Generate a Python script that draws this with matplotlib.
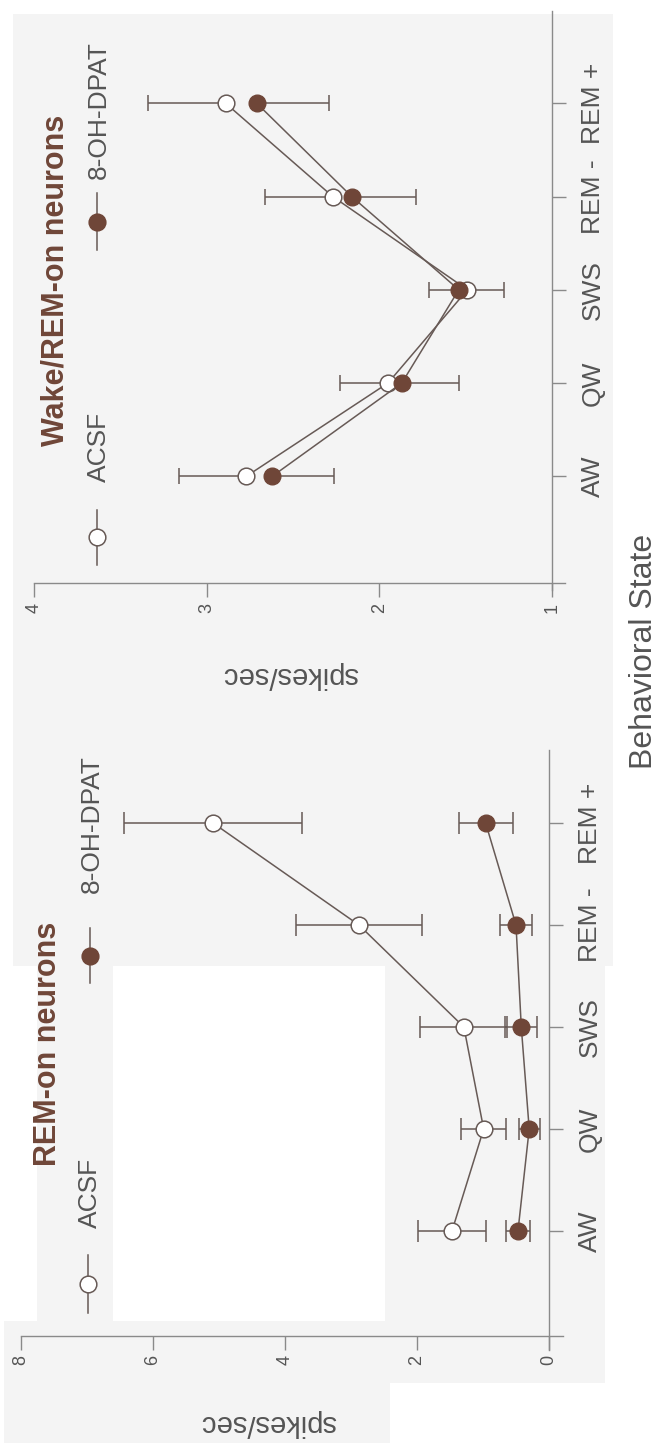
import numpy as np
import matplotlib.pyplot as plt
from matplotlib.patches import Rectangle

plt.rcParams['font.family'] = ['Liberation Sans', 'DejaVu Sans']

states = ['AW', 'QW', 'SWS', 'REM -', 'REM +']

# REM-on neurons (mean +/- sem)
rem_acsf = [1.47, 0.99, 1.29, 2.88, 5.09]
rem_acsf_err = [0.51, 0.34, 0.66, 0.95, 1.35]
rem_dpat = [0.47, 0.30, 0.42, 0.50, 0.96]
rem_dpat_err = [0.18, 0.16, 0.24, 0.24, 0.41]

# Wake/REM-on neurons (one sided bars)
wake_acsf = [2.77, 1.95, 1.49, 2.27, 2.89]
wake_acsf_up = [0.39, 0.28, 0.22, 0.39, 0.45]
wake_dpat = [2.62, 1.87, 1.54, 2.16, 2.71]
wake_dpat_down = [0.36, 0.33, 0.26, 0.37, 0.42]

W, H = 661, 1443
brown = '#6f4638'
line_c = '#675a56'
axis_c = '#8a8a8a'
text_c = '#555555'
grey_bg = '#f4f4f4'

fig = plt.figure(figsize=(W / 100, H / 100), dpi=100, facecolor='white')


def fx(px):
    return px / W


def fy(py):
    return 1 - py / H


def add_ax(l, t, r, b):
    return fig.add_axes([fx(l), fy(b), (r - l) / W, (b - t) / H])


# scanned page background
for (x0, y0, x1, y1) in [(13, 14, 613, 966), (37, 966, 113, 1321),
                         (385, 966, 605, 1383), (4, 1321, 390, 1443)]:
    fig.patches.append(Rectangle((fx(x0), fy(y1)), (x1 - x0) / W, (y1 - y0) / H,
                                 transform=fig.transFigure, facecolor=grey_bg,
                                 edgecolor='none', zorder=-5))


def style_axes(ax, xlim, ylim, xticks, xzero, yaxis_at):
    ax.set_facecolor('none')
    ax.set_xlim(*xlim)
    ax.set_ylim(*ylim)
    for s in ['top', 'left']:
        ax.spines[s].set_visible(False)
    ax.spines['bottom'].set_position(('data', yaxis_at))
    ax.spines['right'].set_position(('data', xzero))
    for s in ['bottom', 'right']:
        ax.spines[s].set_color(axis_c)
        ax.spines[s].set_linewidth(1.0)
    ax.set_xticks(xticks)
    ax.set_xticklabels([str(v) for v in xticks])
    ax.set_yticks(np.arange(len(states)))
    ax.set_yticklabels(states)
    ax.yaxis.tick_right()
    ax.tick_params(axis='x', direction='out', length=10, width=1.0, color=axis_c,
                   labelsize=13, labelcolor=text_c, pad=4, labelrotation=90)
    ax.tick_params(axis='y', direction='out', length=10, width=1.0, color=axis_c,
                   labelsize=19, labelcolor=text_c, pad=11, labelrotation=90,
                   left=False, right=True, labelleft=False, labelright=True)
    for lab in ax.get_yticklabels():
        lab.set_va('center')
        lab.set_ha('left')


def legend_entry(px, y_top, y_bot, label, filled, text_bottom):
    ym = (y_top + y_bot) / 2
    fig.add_artist(plt.Line2D([fx(px), fx(px)], [fy(y_top), fy(y_bot)],
                              transform=fig.transFigure, color=line_c, lw=1.1))
    fig.add_artist(plt.Line2D([fx(px)], [fy(ym)], transform=fig.transFigure,
                              marker='o', ms=12, mew=1.1, mec=brown if filled else line_c,
                              mfc=brown if filled else 'white'))
    fig.text(fx(px + 2), fy(text_bottom), label, rotation=90, ha='center', va='bottom',
             fontsize=19, color=text_c)


pos = np.arange(len(states))

# ---- Wake/REM-on neurons (upper part of page)
ax1 = add_ax(34, 11, 565, 590)
style_axes(ax1, (4, 0.925), (-1.22, 4.99), [1, 2, 3, 4], 1, -1.147)
acsf_end = np.array(wake_acsf) + np.array(wake_acsf_up)
dpat_end = np.array(wake_dpat) - np.array(wake_dpat_down)
ax1.hlines(pos, wake_acsf, acsf_end, color=line_c, lw=1.1, zorder=2)
ax1.hlines(pos, wake_dpat, dpat_end, color=line_c, lw=1.1, zorder=2)
ax1.plot(acsf_end, pos, '|', color=line_c, ms=11, mew=1.1, zorder=2)
ax1.plot(dpat_end, pos, '|', color=line_c, ms=11, mew=1.1, zorder=2)
ax1.plot(wake_acsf, pos, '-o', color=line_c, lw=1.1, ms=12, mfc='white',
         mec=line_c, mew=1.1, zorder=3)
ax1.plot(wake_dpat, pos, '-o', color=line_c, lw=1.1, ms=12, mfc=brown,
         mec=brown, zorder=4)
fig.text(fx(290), fy(675), 'spikes/sec', rotation=180,
         ha='center', va='center', fontsize=21, color=text_c)
fig.text(fx(56), fy(280), 'Wake/REM-on neurons', rotation=90, ha='center',
         va='center', fontsize=22, fontweight='bold', color=brown)
legend_entry(97, 510, 565, 'ACSF', False, 482)
legend_entry(97, 193, 250, '8-OH-DPAT', True, 179)

# ---- REM-on neurons (lower part of page)
ax2 = add_ax(21, 750, 563, 1350)
style_axes(ax2, (8, -0.212), (-1.167, 4.716), [0, 2, 4, 6, 8], 0, -1.029)
ax2.errorbar(rem_acsf, pos, xerr=rem_acsf_err, fmt='none',
             ecolor=line_c, elinewidth=1.1, capsize=8, capthick=1.1, zorder=2)
ax2.errorbar(rem_dpat, pos, xerr=rem_dpat_err, fmt='none',
             ecolor=line_c, elinewidth=1.1, capsize=8, capthick=1.1, zorder=2)
ax2.plot(rem_acsf, pos, '-o', color=line_c, lw=1.1, ms=12, mfc='white',
         mec=line_c, mew=1.1, zorder=3)
ax2.plot(rem_dpat, pos, '-o', color=line_c, lw=1.1, ms=12, mfc=brown,
         mec=brown, zorder=4)
fig.text(fx(268), fy(1423), 'spikes/sec', rotation=180, ha='center', va='center',
         fontsize=21, color=text_c)
fig.text(fx(48), fy(1044), 'REM-on neurons', rotation=90, ha='center',
         va='center', fontsize=22, fontweight='bold', color=brown)
legend_entry(88, 1255, 1313, 'ACSF', False, 1228)
legend_entry(90, 928, 983, '8-OH-DPAT', True, 893)

fig.text(fx(644), fy(651), 'Behavioral State', rotation=90, ha='center',
         va='center', fontsize=23, color=text_c)

fig.savefig('out.png', dpi=100, facecolor='white')
